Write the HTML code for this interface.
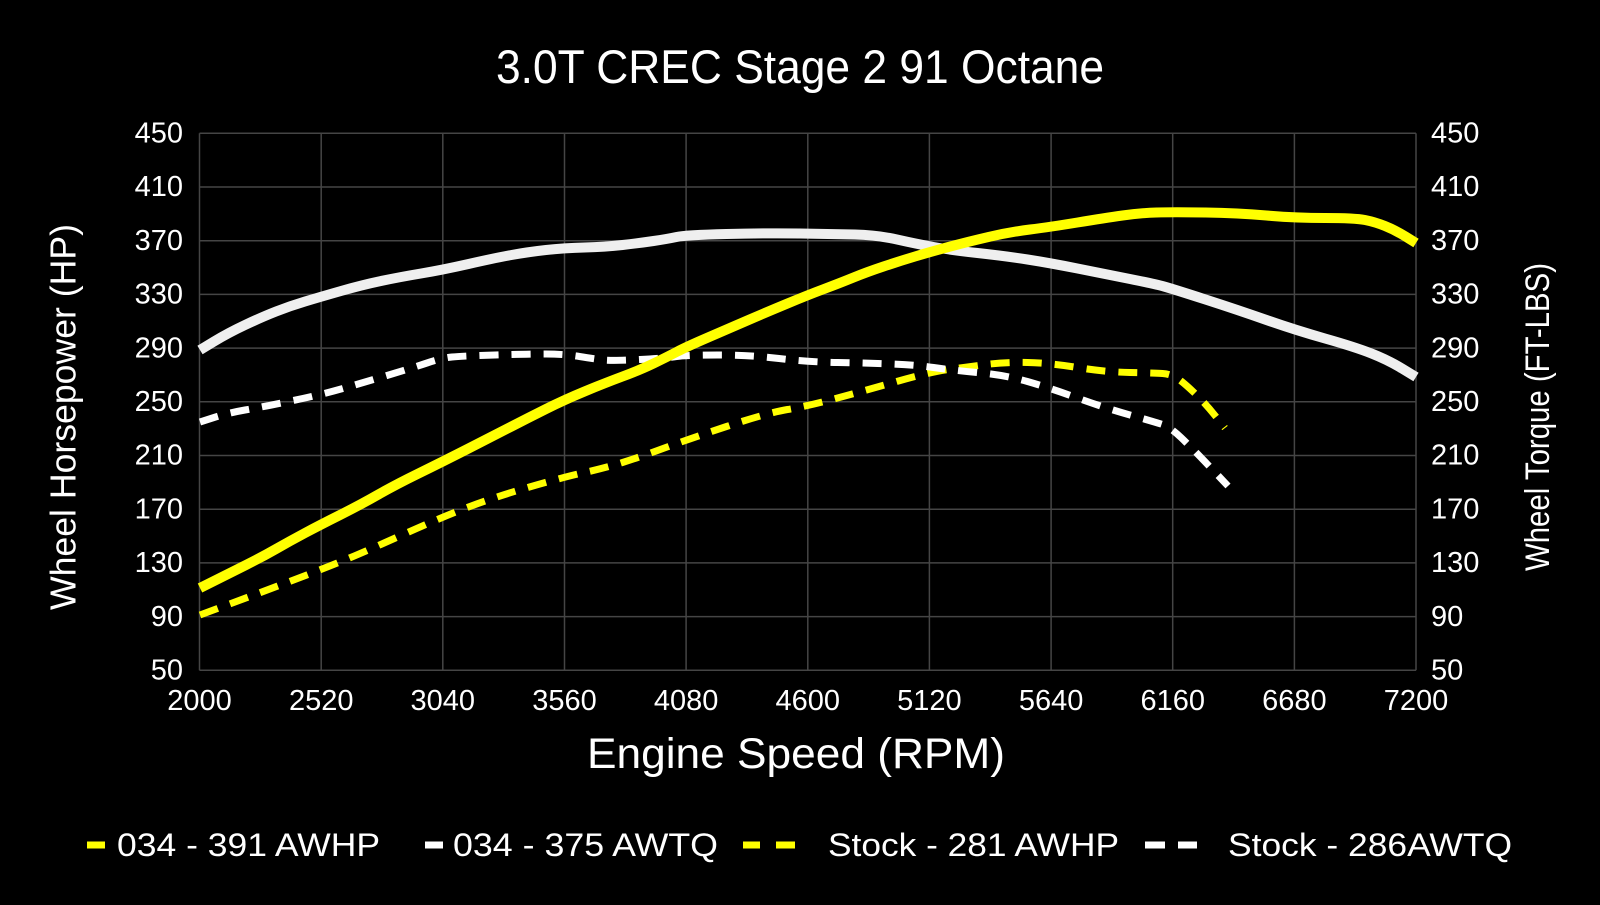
<!DOCTYPE html>
<html>
<head>
<meta charset="utf-8">
<style>
  html, body { margin:0; padding:0; background:#000; }
  body { width:1600px; height:905px; overflow:hidden; }
  svg { display:block; }
  text { font-family: "Liberation Sans", Arial, sans-serif; fill:#fff; }
</style>
</head>
<body>
<svg width="1600" height="905" viewBox="0 0 1600 905" xmlns="http://www.w3.org/2000/svg">
  <rect x="0" y="0" width="1600" height="905" fill="#000"/>

  <!-- Title -->
  <text x="496" y="83" font-size="47" textLength="608" lengthAdjust="spacingAndGlyphs">3.0T CREC Stage 2 91 Octane</text>

  <!-- Grid -->
  <g stroke="#454545" stroke-width="1.5" fill="none">
    <line x1="199.5" y1="133.3" x2="1416" y2="133.3"/>
    <line x1="199.5" y1="187.0" x2="1416" y2="187.0"/>
    <line x1="199.5" y1="240.7" x2="1416" y2="240.7"/>
    <line x1="199.5" y1="294.4" x2="1416" y2="294.4"/>
    <line x1="199.5" y1="348.1" x2="1416" y2="348.1"/>
    <line x1="199.5" y1="401.8" x2="1416" y2="401.8"/>
    <line x1="199.5" y1="455.5" x2="1416" y2="455.5"/>
    <line x1="199.5" y1="509.2" x2="1416" y2="509.2"/>
    <line x1="199.5" y1="562.9" x2="1416" y2="562.9"/>
    <line x1="199.5" y1="616.6" x2="1416" y2="616.6"/>
    <line x1="199.5" y1="670.3" x2="1416" y2="670.3"/>

    <line x1="199.5" y1="133.3" x2="199.5" y2="670.3"/>
    <line x1="321.2" y1="133.3" x2="321.2" y2="670.3"/>
    <line x1="442.8" y1="133.3" x2="442.8" y2="670.3"/>
    <line x1="564.5" y1="133.3" x2="564.5" y2="670.3"/>
    <line x1="686.1" y1="133.3" x2="686.1" y2="670.3"/>
    <line x1="807.8" y1="133.3" x2="807.8" y2="670.3"/>
    <line x1="929.4" y1="133.3" x2="929.4" y2="670.3"/>
    <line x1="1051.1" y1="133.3" x2="1051.1" y2="670.3"/>
    <line x1="1172.7" y1="133.3" x2="1172.7" y2="670.3"/>
    <line x1="1294.4" y1="133.3" x2="1294.4" y2="670.3"/>
    <line x1="1416" y1="133.3" x2="1416" y2="670.3"/>
  </g>

  <!-- Left Y tick labels -->
  <g font-size="29" text-anchor="end">
    <text x="183" y="142.5">450</text>
    <text x="183" y="196.2">410</text>
    <text x="183" y="249.9">370</text>
    <text x="183" y="303.6">330</text>
    <text x="183" y="357.3">290</text>
    <text x="183" y="411.0">250</text>
    <text x="183" y="464.7">210</text>
    <text x="183" y="518.4">170</text>
    <text x="183" y="572.1">130</text>
    <text x="183" y="625.8">90</text>
    <text x="183" y="679.5">50</text>
  </g>

  <!-- Right Y tick labels -->
  <g font-size="29" text-anchor="start">
    <text x="1431" y="142.5">450</text>
    <text x="1431" y="196.2">410</text>
    <text x="1431" y="249.9">370</text>
    <text x="1431" y="303.6">330</text>
    <text x="1431" y="357.3">290</text>
    <text x="1431" y="411.0">250</text>
    <text x="1431" y="464.7">210</text>
    <text x="1431" y="518.4">170</text>
    <text x="1431" y="572.1">130</text>
    <text x="1431" y="625.8">90</text>
    <text x="1431" y="679.5">50</text>
  </g>

  <!-- X tick labels -->
  <g font-size="29" text-anchor="middle">
    <text x="199.5" y="710">2000</text>
    <text x="321.2" y="710">2520</text>
    <text x="442.8" y="710">3040</text>
    <text x="564.5" y="710">3560</text>
    <text x="686.1" y="710">4080</text>
    <text x="807.8" y="710">4600</text>
    <text x="929.4" y="710">5120</text>
    <text x="1051.1" y="710">5640</text>
    <text x="1172.7" y="710">6160</text>
    <text x="1294.4" y="710">6680</text>
    <text x="1416" y="710">7200</text>
  </g>

  <!-- Axis titles -->
  <text x="587" y="768" font-size="43" textLength="418" lengthAdjust="spacingAndGlyphs">Engine Speed (RPM)</text>
  <text transform="translate(63,417) rotate(-90)" x="0" y="0" font-size="36" text-anchor="middle" dominant-baseline="central" textLength="386" lengthAdjust="spacingAndGlyphs">Wheel Horsepower (HP)</text>
  <text transform="translate(1538,417) rotate(-90)" x="0" y="0" font-size="34" text-anchor="middle" dominant-baseline="central" textLength="308" lengthAdjust="spacingAndGlyphs">Wheel Torque (FT-LBS)</text>

  <!-- Series -->
  <g fill="none" stroke-linejoin="round">
    <!-- Stock HP (yellow dashed) -->
    <path stroke="#ffff00" stroke-width="7" stroke-dasharray="19 13"
      d="M200,615 L231,603.5 Q262,592 291,581 Q320,570 341,561.5 Q362,553 402,535 Q442,517 468.5,507 Q495,497 529.5,487 Q564,477 584.5,472.5 Q605,468 622.5,462.5 Q640,457 663,448.5 Q686,440 726.5,426.5 Q767,413 787.5,409.5 Q808,406 837.5,398 Q867,390 898.5,381 Q930,372 948.5,369.5 Q967,367 986,364.5 Q1005,362 1027.5,362.5 Q1050,363 1077.5,367.5 Q1105,372 1130,372.5 Q1155,373 1162.5,373.5 Q1170,374 1176,377.5 Q1182,381 1193.5,392 Q1205,403 1215,415.5 L1225,428"/>
    <!-- Stock TQ (white dashed) -->
    <path stroke="#ffffff" stroke-width="7" stroke-dasharray="19 13"
      d="M200,422 L214,417.5 Q228,413 245,410 Q262,407 291,401 Q320,395 341,389 Q362,383 387,375.5 Q412,368 427,363 Q442,358 452,357 Q462,356 495,355 Q528,354 546,354 Q564,354 579.5,356.5 Q595,359 604,360 Q613,361 640,359.5 Q667,358 676.5,356.5 Q686,355 718,355 Q750,355 779,358.5 Q808,362 837.5,362.5 Q867,363 892,364 Q917,365 933.5,367.5 Q950,370 977.5,372.5 Q1005,375 1027.5,381.5 Q1050,388 1077.5,398 Q1105,408 1130,415 Q1155,422 1162.5,424.5 Q1170,427 1181,437.5 Q1192,448 1210,467 L1228,486"/>
    <!-- 034 TQ (white solid) -->
    <path stroke="#efefef" stroke-width="10"
      d="M200,350 L214,341.5 Q228,333 245,325 Q262,317 276,311.5 Q290,306 305,301.5 Q320,297 341,291 Q362,285 381,281 Q400,277 421,273.5 Q442,270 468.5,264 Q495,258 511.5,255 Q528,252 546,250 Q564,248 584.5,247.5 Q605,247 622.5,245 Q640,243 653.5,241 Q667,239 676.5,237 Q686,235 726.5,234 Q767,233 800,233.5 Q833,234 855,234.5 Q877,235 897,239.5 Q917,244 933.5,247 Q950,250 977.5,253 Q1005,256 1027.5,259.5 Q1050,263 1077.5,268.5 Q1105,274 1130,279 Q1155,284 1164,286.5 Q1173,289 1205.5,299.5 Q1238,310 1266.5,320 Q1295,330 1325,338.5 Q1355,347 1371.5,353.5 Q1388,360 1402,368.5 L1416,377"/>
    <!-- 034 HP (yellow solid) -->
    <path stroke="#ffff00" stroke-width="10"
      d="M200,588 L215,580.5 Q230,573 246,565 Q262,557 276,549 Q290,541 305,533 Q320,525 340,515 Q360,505 377.5,495 Q395,485 418.5,473.5 Q442,462 468.5,448.5 Q495,435 511.5,426.5 Q528,418 546,409 Q564,400 584.5,391.5 Q605,383 622.5,376.5 Q640,370 653.5,363.5 Q667,357 676.5,352 Q686,347 708,337.5 Q730,328 748.5,320 Q767,312 787.5,303.5 Q808,295 824,289 Q840,283 853.5,277.5 Q867,272 883.5,266.5 Q900,261 915,256.5 Q930,252 948.5,247 Q967,242 988.5,237 Q1010,232 1030,229.5 Q1050,227 1077.5,222.5 Q1105,218 1122.5,215.5 Q1140,213 1156.5,212.5 Q1173,212 1205.5,212.5 Q1238,213 1266.5,215.5 Q1295,218 1325,218 Q1355,218 1365,220 Q1375,222 1385,226 Q1395,230 1405.5,236.5 L1416,243"/>
  </g>

  <!-- Legend -->
  <g>
    <rect x="87" y="841.5" width="18" height="7" fill="#ffff00"/>
    <text x="117" y="856" font-size="32" textLength="263" lengthAdjust="spacingAndGlyphs">034 - 391 AWHP</text>

    <rect x="425" y="841.5" width="18" height="7" fill="#ffffff"/>
    <text x="453" y="856" font-size="32" textLength="265" lengthAdjust="spacingAndGlyphs">034 - 375 AWTQ</text>

    <rect x="743" y="841.5" width="17" height="7" fill="#ffff00"/>
    <rect x="776" y="841.5" width="19" height="7" fill="#ffff00"/>
    <text x="828" y="856" font-size="32" textLength="291" lengthAdjust="spacingAndGlyphs">Stock - 281 AWHP</text>

    <rect x="1145" y="841.5" width="20" height="7" fill="#ffffff"/>
    <rect x="1178" y="841.5" width="19" height="7" fill="#ffffff"/>
    <text x="1228" y="856" font-size="32" textLength="284" lengthAdjust="spacingAndGlyphs">Stock - 286AWTQ</text>
  </g>
</svg>
</body>
</html>
